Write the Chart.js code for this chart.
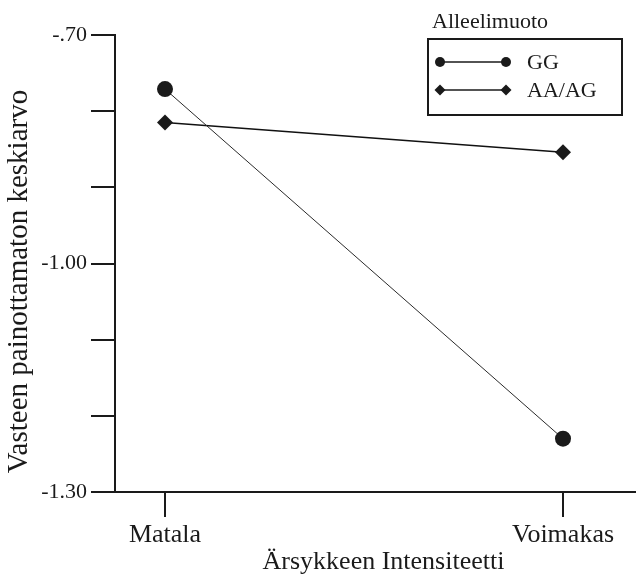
<!DOCTYPE html>
<html><head><meta charset="utf-8">
<script src="https://cdn.jsdelivr.net/npm/chart.js@4"></script>
<style>html,body{margin:0;padding:0;background:#fff}</style>
</head><body>
<canvas id="c" width="636" height="580"></canvas>
<script>
const categories = ['Matala', 'Voimakas'];
const seriesNames = ['GG', 'AA/AG'];
const ggValues = [-0.771, -1.230];
const aaValues = [-0.815, -0.854];
const yTickValues = [-0.7, -1.0, -1.3];
const yTickLabels = ['-.70', '-1.00', '-1.30'];
const xTitle = 'Ärsykkeen Intensiteetti';
const yTitle = 'Vasteen painottamaton keskiarvo';
const legendTitle = 'Alleelimuoto';

const INK = '#1a1a1a';
const SERIF = '"Liberation Serif", "Times New Roman", serif';

function marker(ctx, style, x, y, r) {
  ctx.beginPath();
  if (style === 'circle') {
    ctx.arc(x, y, r, 0, Math.PI * 2);
  } else {
    ctx.moveTo(x, y - r); ctx.lineTo(x + r, y); ctx.lineTo(x, y + r); ctx.lineTo(x - r, y); ctx.closePath();
  }
  ctx.fill();
}

const decor = {
  id: 'decor',
  afterDraw(chart) {
    const ctx = chart.ctx;
    const ca = chart.chartArea;
    ctx.save();
    ctx.fillStyle = INK;
    ctx.strokeStyle = INK;
    ctx.textBaseline = 'middle';
    // axis titles
    ctx.textAlign = 'center';
    ctx.font = '26px ' + SERIF;
    ctx.fillText(xTitle, (ca.left + ca.right) / 2 + 8, 562);
    ctx.save();
    ctx.translate(19, (ca.top + ca.bottom) / 2 + 18);
    ctx.rotate(-Math.PI / 2);
    ctx.font = '29px ' + SERIF;
    ctx.fillText(yTitle, 0, 0);
    ctx.restore();
    // legend
    ctx.textAlign = 'left';
    ctx.font = '22px ' + SERIF;
    ctx.fillText(legendTitle, 432, 22);
    ctx.lineWidth = 2;
    ctx.strokeRect(428, 39, 194, 76);
    chart.data.datasets.forEach((ds, i) => {
      const y = 62 + i * 28;
      ctx.lineWidth = 1.3;
      ctx.beginPath(); ctx.moveTo(440, y); ctx.lineTo(506, y); ctx.stroke();
      const st = ds.pointStyle === 'circle' ? 'circle' : 'diamond';
      const r = st === 'circle' ? 5 : 5.5;
      marker(ctx, st, 440, y, r);
      marker(ctx, st, 506, y, r);
      ctx.fillText(ds.label, 527, y + 1);
    });
    ctx.restore();
  }
};

const toPoints = vals => vals.map((v, i) => ({ x: i, y: v }));

new Chart(document.getElementById('c'), {
  type: 'line',
  data: {
    datasets: [
      { label: seriesNames[0], data: toPoints(ggValues), borderColor: '#2a2a2a', borderWidth: 1,
        pointStyle: 'circle', pointRadius: 8, pointBackgroundColor: INK, pointBorderWidth: 0, tension: 0 },
      { label: seriesNames[1], data: toPoints(aaValues), borderColor: '#111', borderWidth: 1.5,
        pointStyle: 'rectRot', pointRadius: 8, pointBackgroundColor: INK, pointBorderWidth: 0, tension: 0 }
    ]
  },
  options: {
    responsive: false,
    animation: false,
    devicePixelRatio: 1,
    layout: { autoPadding: false, padding: { top: 35, left: 0, right: 0, bottom: 0 } },
    plugins: { legend: { display: false }, tooltip: { enabled: false } },
    scales: {
      x: {
        type: 'linear', min: -0.1256, max: 1.1834,
        afterBuildTicks: s => { s.ticks = categories.map((c, i) => ({ value: i })); },
        afterFit: s => { s.height = 88; s.paddingLeft = 0; s.paddingRight = 0; },
        ticks: { autoSkip: false, maxRotation: 0, padding: 3, color: INK,
          font: { family: SERIF, size: 26 }, callback: v => categories[v] },
        grid: { drawOnChartArea: false, drawTicks: true, tickLength: 25, color: INK, lineWidth: 2 },
        border: { display: true, color: INK, width: 2 }
      },
      y: {
        min: -1.3, max: -0.7,
        afterFit: s => { s.width = 115; },
        ticks: { stepSize: 0.1, padding: 4, color: INK, font: { family: SERIF, size: 22 },
          callback: v => { const k = yTickValues.findIndex(t => Math.abs(t - v) < 1e-6); return k >= 0 ? yTickLabels[k] : ''; } },
        grid: { drawOnChartArea: false, drawTicks: true, tickLength: 24, color: INK, lineWidth: 2 },
        border: { display: true, color: INK, width: 2 }
      }
    }
  },
  plugins: [decor]
});
</script>
</body></html>
